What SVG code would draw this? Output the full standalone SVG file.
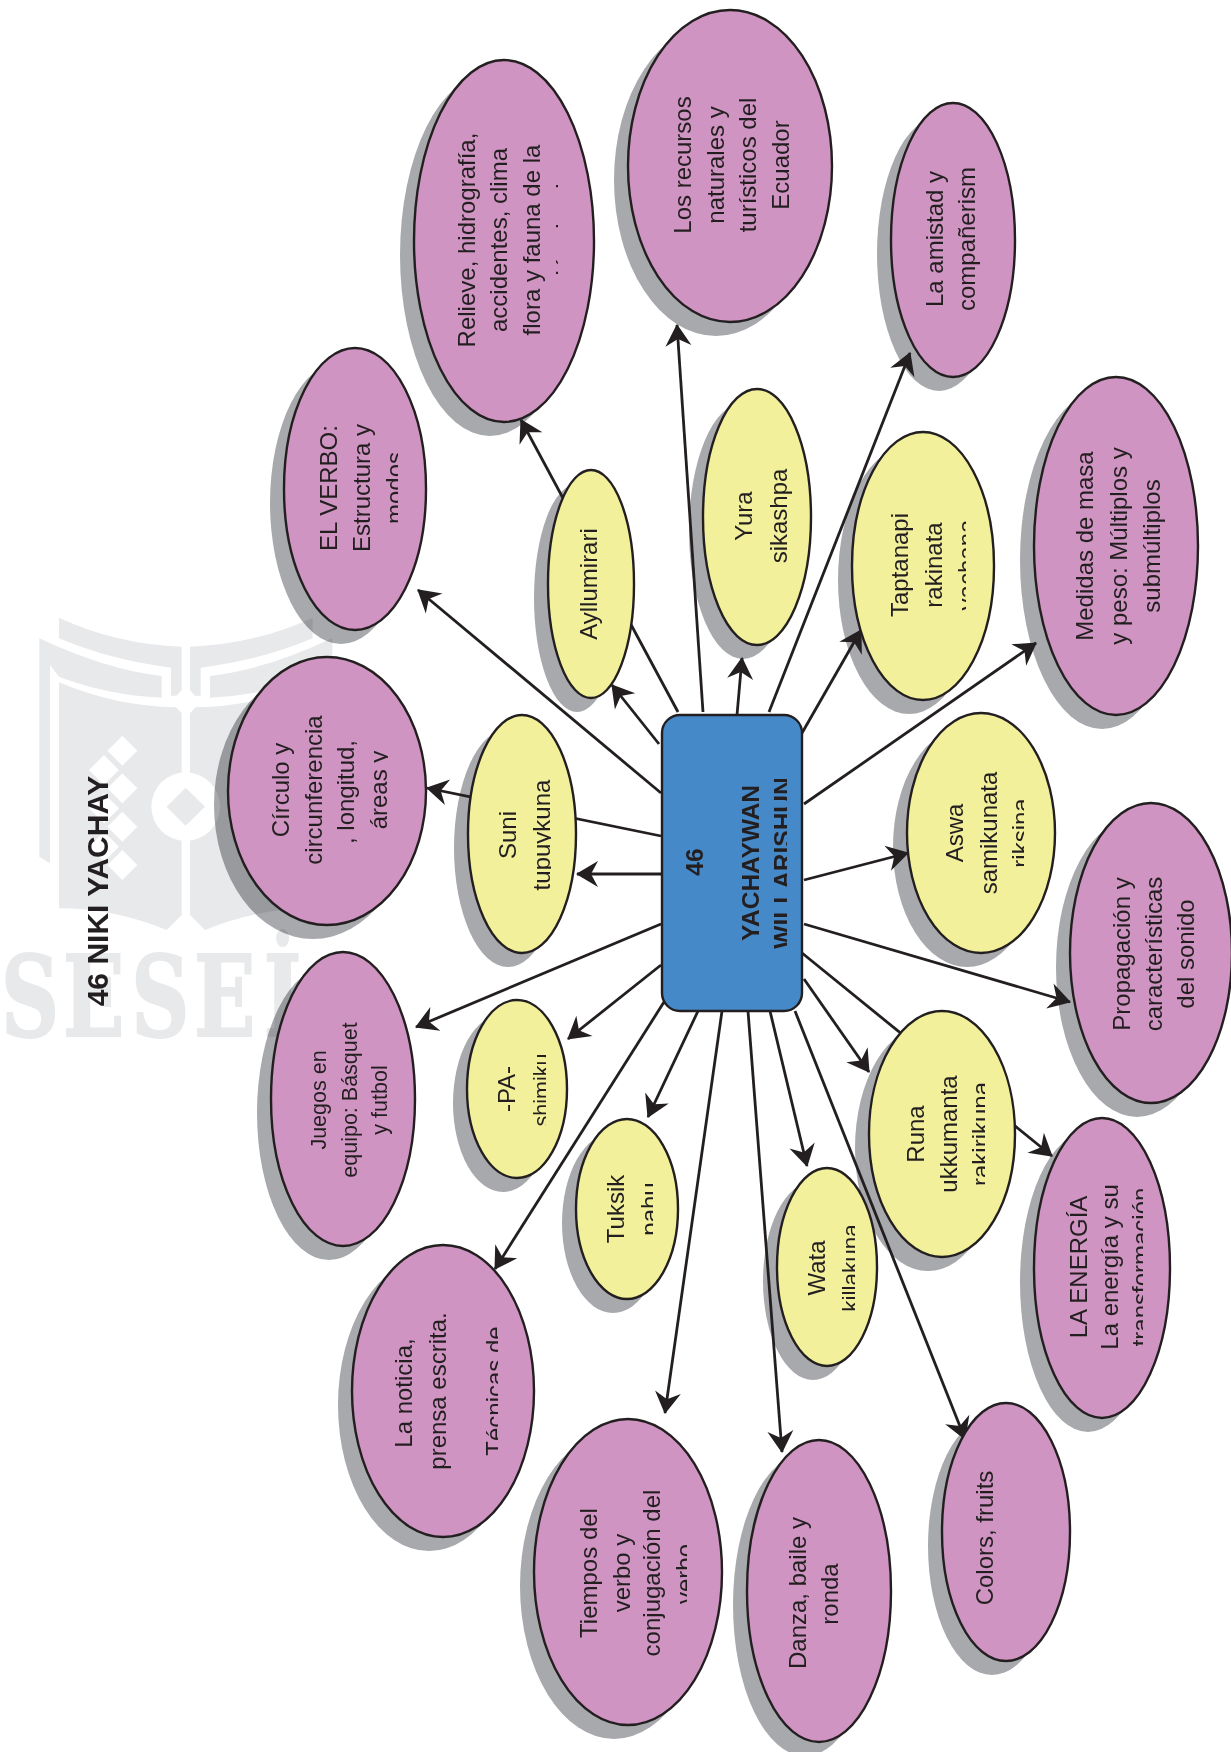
<svg xmlns="http://www.w3.org/2000/svg" width="1231" height="1752" viewBox="0 0 1231 1752">
<style>
text{font-family:"Liberation Sans",Arial,sans-serif;fill:#231f20;text-anchor:middle;font-size:24px}
.b{font-weight:bold;font-size:24.5px}
.s{font-size:21.5px}
.p{fill:#cf94c1;stroke:#231f20;stroke-width:2.4}
.y{fill:#f2f09a;stroke:#231f20;stroke-width:2.4}
.sh ellipse{fill:#a7a9ac;mix-blend-mode:multiply}
.wm{fill:#e8e9eb}
.wt{font-family:"DejaVu Serif",serif;font-weight:bold;font-size:112px;fill:#e8e9eb;stroke:#e8e9eb;stroke-width:2;text-anchor:start}
#connectors line{stroke:#231f20;stroke-width:2.8;marker-end:url(#ah)}
</style>
<defs>
<marker id="ah" markerUnits="userSpaceOnUse" markerWidth="24" markerHeight="28" viewBox="0 0 22 28" refX="21" refY="14" orient="auto">
<path d="M22,14 L0,1 L7,14 L0,27 Z" fill="#231f20"/>
</marker>
<clipPath id="c1"><rect width="398" height="1752"/></clipPath>
<clipPath id="c2"><rect width="558" height="1752"/></clipPath>
<clipPath id="c3"><rect width="966" height="1752"/></clipPath>
<clipPath id="c4"><rect width="388" height="1752"/></clipPath>
<clipPath id="c5"><rect width="551" height="1752"/></clipPath>
<clipPath id="c6"><rect width="1024" height="1752"/></clipPath>
<clipPath id="c7"><rect width="985" height="1752"/></clipPath>
<clipPath id="c8"><rect width="1143" height="1752"/></clipPath>
<clipPath id="c9"><rect width="546" height="1752"/></clipPath>
<clipPath id="c10"><rect width="653" height="1752"/></clipPath>
<clipPath id="c11"><rect width="855" height="1752"/></clipPath>
<clipPath id="c12"><rect width="498" height="1752"/></clipPath>
<clipPath id="c13"><rect width="687" height="1752"/></clipPath>
<clipPath id="c14"><rect width="787" height="1752"/></clipPath>
<g id="bookhalf">
<path d="M87,38 Q260,118 455,125 L455,255 L440,272 L423,272 L423,188 Q240,165 87,100 Z"/>
<path d="M28,100 Q230,195 395,213 L395,278 Q230,270 87,215 L60,180 L60,775 L28,755 Z"/>
<path d="M87,232 Q260,305 438,307 L455,325 L455,930 L410,975 Q250,910 87,910 Z"/>
</g>
</defs>
<rect width="1231" height="1752" fill="#fff"/>
<g id="watermark">
<g class="wm" transform="translate(30,605) scale(.3333)">
<use href="#bookhalf"/>
<use href="#bookhalf" transform="translate(935,0) scale(-1,1)"/>
<circle cx="467" cy="605" r="103" fill="#fff"/>
<path d="M467,548 L525,605 L467,662 L410,605 Z"/>
<path fill="#fff" d="M277,392 L322,437 L277,482 L232,437 Z M277,505 L322,550 L277,595 L232,550 Z M277,620 L322,665 L277,710 L232,665 Z M277,735 L322,780 L277,825 L232,780 Z M222,450 L267,495 L222,540 L177,495 Z M222,565 L267,610 L222,655 L177,610 Z M222,680 L267,725 L222,770 L177,725 Z"/>
</g>
<text class="wt" transform="translate(-4,1036) scale(.72,1)" x="7 93 188 275 372" y="0">SESEİ</text>
</g>
<text id="title" class="b" style="font-size:30px" transform="translate(108,891) rotate(-90)">46 NIKI YACHAY</text>
<g id="shadows" class="sh" transform="translate(-14,14)">
<ellipse cx="504" cy="241" rx="90" ry="181"/>
<ellipse cx="730" cy="166" rx="102" ry="156"/>
<ellipse cx="953" cy="240" rx="62" ry="137"/>
<ellipse cx="355" cy="489" rx="71" ry="141"/>
<ellipse cx="591" cy="584" rx="43" ry="114"/>
<ellipse cx="757" cy="517" rx="54" ry="128"/>
<ellipse cx="923" cy="566" rx="71" ry="134"/>
<ellipse cx="1116" cy="546" rx="82" ry="169"/>
<ellipse cx="327" cy="791" rx="99" ry="134"/>
<ellipse cx="522" cy="834" rx="54" ry="119"/>
<ellipse cx="981" cy="833" rx="74" ry="120"/>
<ellipse cx="1151" cy="953" rx="81" ry="150"/>
<ellipse cx="343" cy="1099" rx="72" ry="147"/>
<ellipse cx="517" cy="1089" rx="50" ry="89"/>
<ellipse cx="627" cy="1209" rx="51" ry="90"/>
<ellipse cx="827" cy="1267" rx="50" ry="99"/>
<ellipse cx="942" cy="1134" rx="73" ry="123"/>
<ellipse cx="1102" cy="1268" rx="68" ry="150"/>
<ellipse cx="443" cy="1391" rx="91" ry="146"/>
<ellipse cx="628" cy="1572" rx="94" ry="153"/>
<ellipse cx="819" cy="1591" rx="72" ry="151"/>
<ellipse cx="1006" cy="1532" rx="64" ry="129"/>
</g>
<g id="connectors">
<line x1="678" y1="712" x2="521" y2="420"/>
<line x1="659" y1="744" x2="612" y2="685"/>
<line x1="661" y1="793" x2="418" y2="590"/>
<line x1="703" y1="712" x2="677" y2="325"/>
<line x1="737" y1="715" x2="742" y2="658"/>
<line x1="769" y1="712" x2="910" y2="353"/>
<line x1="802" y1="733" x2="861" y2="630"/>
<line x1="804" y1="804" x2="1036" y2="643"/>
<line x1="804" y1="880" x2="908" y2="853"/>
<line x1="804" y1="924" x2="1070" y2="1002"/>
<line x1="804" y1="979" x2="869" y2="1072"/>
<line x1="802" y1="953" x2="1052" y2="1156"/>
<line x1="795" y1="1011" x2="965" y2="1439"/>
<line x1="770" y1="1011" x2="807" y2="1166"/>
<line x1="748" y1="1011" x2="782" y2="1452"/>
<line x1="722" y1="1011" x2="665" y2="1413"/>
<line x1="698" y1="1011" x2="648" y2="1117"/>
<line x1="664" y1="1002" x2="495" y2="1269"/>
<line x1="661" y1="965" x2="568" y2="1039"/>
<line x1="661" y1="924" x2="416" y2="1027"/>
<line x1="661" y1="874" x2="577" y2="874"/>
<line x1="661" y1="836" x2="427" y2="788"/>
</g>
<g id="n-relieve"><ellipse class="p" cx="504" cy="241" rx="90" ry="181"/>
<text transform="translate(475,240) rotate(-90)">Relieve, hidrografía,</text>
<text transform="translate(507,240) rotate(-90)">accidentes, clima</text>
<text transform="translate(540,240) rotate(-90)">flora y fauna de la</text>
<g clip-path="url(#c2)"><text transform="translate(573,240) rotate(-90)">región donde</text></g></g>
<g id="n-recursos"><ellipse class="p" cx="730" cy="166" rx="102" ry="156"/>
<text transform="translate(691,165) rotate(-90)">Los recursos</text>
<text transform="translate(724,165) rotate(-90)">naturales y</text>
<text transform="translate(756,165) rotate(-90)">turísticos del</text>
<text transform="translate(789,165) rotate(-90)">Ecuador</text></g>
<g id="n-amistad"><ellipse class="p" cx="953" cy="240" rx="62" ry="137"/>
<text transform="translate(943,239) rotate(-90)">La amistad y</text>
<text transform="translate(975,239) rotate(-90)">compañerism</text></g>
<g id="n-verbo"><ellipse class="p" cx="355" cy="489" rx="71" ry="141"/>
<text transform="translate(337,488) rotate(-90)">EL VERBO:</text>
<text transform="translate(370,488) rotate(-90)">Estructura y</text>
<g clip-path="url(#c1)"><text transform="translate(403,488) rotate(-90)">modos</text></g></g>
<g id="n-ayllu"><ellipse class="y" cx="591" cy="584" rx="43" ry="114"/>
<text transform="translate(597,584) rotate(-90)">Ayllumirari</text></g>
<g id="n-yura"><ellipse class="y" cx="757" cy="517" rx="54" ry="128"/>
<text transform="translate(752,516) rotate(-90)">Yura</text>
<text transform="translate(787,516) rotate(-90)">sikashpa</text></g>
<g id="n-taptanapi"><ellipse class="y" cx="923" cy="566" rx="71" ry="134"/>
<text transform="translate(908,565) rotate(-90)">Taptanapi</text>
<text transform="translate(942,565) rotate(-90)">rakinata</text>
<g clip-path="url(#c3)"><text transform="translate(975,565) rotate(-90)">yachana</text></g></g>
<g id="n-medidas"><ellipse class="p" cx="1116" cy="546" rx="82" ry="169"/>
<text transform="translate(1093,546) rotate(-90)">Medidas de masa</text>
<text transform="translate(1127,546) rotate(-90)">y peso: Múltiplos y</text>
<text transform="translate(1160,546) rotate(-90)">submúltiplos</text></g>
<g id="n-circulo"><ellipse class="p" cx="327" cy="791" rx="99" ry="134"/>
<text transform="translate(289,790) rotate(-90)">Círculo y</text>
<text transform="translate(322,790) rotate(-90)">circunferencia</text>
<text transform="translate(354,792) rotate(-90)">, longitud,</text>
<g clip-path="url(#c4)"><text transform="translate(387,790) rotate(-90)">áreas y</text></g></g>
<g id="n-suni"><ellipse class="y" cx="522" cy="834" rx="54" ry="119"/>
<text transform="translate(516,835) rotate(-90)">Suni</text>
<g clip-path="url(#c5)"><text transform="translate(550,835) rotate(-90)">tupuykuna</text></g></g>
<g id="n-central"><rect x="662" y="715" width="140" height="296" rx="18" fill="#4689c8" stroke="#231f20" stroke-width="2.4"/>
<text class="b" transform="translate(703,862) rotate(-90)">46</text>
<text class="b" transform="translate(759,863) rotate(-90)">YACHAYWAN</text>
<g clip-path="url(#c14)"><text class="b" transform="translate(791,863) rotate(-90)">WILLARISHUN</text></g></g>
<g id="n-aswa"><ellipse class="y" cx="981" cy="833" rx="74" ry="120"/>
<text transform="translate(963,833) rotate(-90)">Aswa</text>
<text transform="translate(997,833) rotate(-90)">samikunata</text>
<g clip-path="url(#c6)"><text transform="translate(1029,833) rotate(-90)">riksina</text></g></g>
<g id="n-propagacion"><ellipse class="p" cx="1151" cy="953" rx="81" ry="150"/>
<text transform="translate(1130,954) rotate(-90)">Propagación y</text>
<text transform="translate(1162,954) rotate(-90)">características</text>
<text transform="translate(1194,954) rotate(-90)">del sonido</text></g>
<g id="n-juegos"><ellipse class="p" cx="343" cy="1099" rx="72" ry="147"/>
<text class="s" transform="translate(326,1100) rotate(-90)">Juegos en</text>
<text class="s" transform="translate(357,1100) rotate(-90)">equipo: Básquet</text>
<text class="s" transform="translate(387,1100) rotate(-90)">y futbol</text></g>
<g id="n-pa"><ellipse class="y" cx="517" cy="1089" rx="50" ry="89"/>
<text transform="translate(515,1089) rotate(-90)">-PA-</text>
<g clip-path="url(#c9)"><text class="s" transform="translate(549,1090) rotate(-90)">shimiku</text></g></g>
<g id="n-tuksik"><ellipse class="y" cx="627" cy="1209" rx="51" ry="90"/>
<text transform="translate(624,1209) rotate(-90)">Tuksik</text>
<g clip-path="url(#c10)"><text transform="translate(658,1209) rotate(-90)">pahu</text></g></g>
<g id="n-wata"><ellipse class="y" cx="827" cy="1267" rx="50" ry="99"/>
<text transform="translate(825,1268) rotate(-90)">Wata</text>
<g clip-path="url(#c11)"><text class="s" style="font-size:22.5px" transform="translate(858,1268) rotate(-90)">killakuna</text></g></g>
<g id="n-runa"><ellipse class="y" cx="942" cy="1134" rx="73" ry="123"/>
<text transform="translate(924,1134) rotate(-90)">Runa</text>
<text transform="translate(957,1134) rotate(-90)">ukkumanta</text>
<g clip-path="url(#c7)"><text transform="translate(989,1134) rotate(-90)">rakirikuna</text></g></g>
<g id="n-energia"><ellipse class="p" cx="1102" cy="1268" rx="68" ry="150"/>
<text transform="translate(1087,1267) rotate(-90)">LA ENERGÍA</text>
<text transform="translate(1118,1267) rotate(-90)">La energía y su</text>
<g clip-path="url(#c8)"><text transform="translate(1149,1267) rotate(-90)">transformación</text></g></g>
<g id="n-noticia"><ellipse class="p" cx="443" cy="1391" rx="91" ry="146"/>
<text transform="translate(412,1393) rotate(-90)">La noticia,</text>
<text transform="translate(446,1391) rotate(-90)">prensa escrita.</text>
<g clip-path="url(#c12)"><text transform="translate(503,1391) rotate(-90)">Técnicas de</text></g></g>
<g id="n-tiempos"><ellipse class="p" cx="628" cy="1572" rx="94" ry="153"/>
<text transform="translate(597,1573) rotate(-90)">Tiempos del</text>
<text transform="translate(630,1573) rotate(-90)">verbo y</text>
<text transform="translate(660,1573) rotate(-90)">conjugación del</text>
<g clip-path="url(#c13)"><text transform="translate(693,1574) rotate(-90)">verbo</text></g></g>
<g id="n-danza"><ellipse class="p" cx="819" cy="1591" rx="72" ry="151"/>
<text transform="translate(806,1593) rotate(-90)">Danza, baile y</text>
<text transform="translate(838,1594) rotate(-90)">ronda</text></g>
<g id="n-colors"><ellipse class="p" cx="1006" cy="1532" rx="64" ry="129"/>
<text transform="translate(993,1538) rotate(-90)">Colors, fruits</text></g>
</svg>
